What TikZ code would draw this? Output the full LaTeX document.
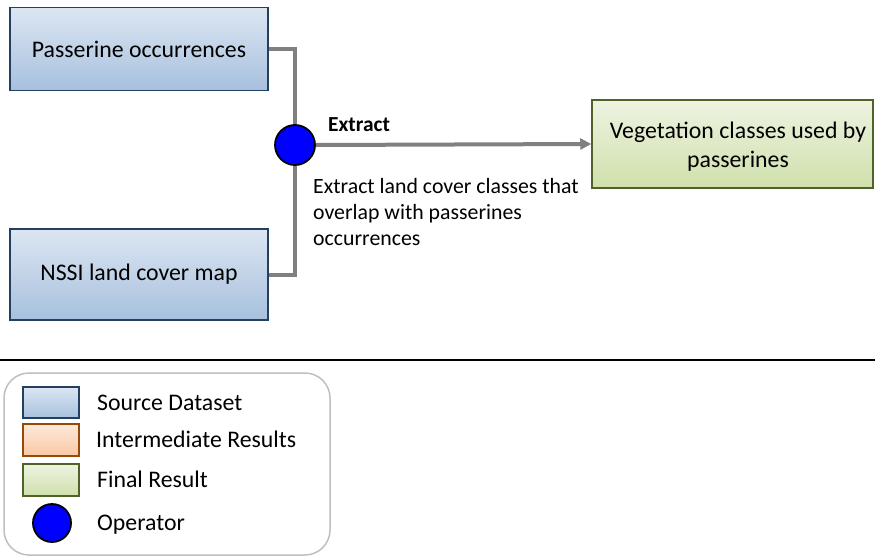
\documentclass[tikz,border=0pt]{standalone}
\usepackage{fontspec}
\setmainfont{Carlito}
\usetikzlibrary{arrows.meta,shadings}
\definecolor{srcborder}{HTML}{243F60}
\definecolor{srctop}{HTML}{DCE6F2}
\definecolor{srcbot}{HTML}{A7C0DE}
\definecolor{fintop}{HTML}{EEF3E2}
\definecolor{finbot}{HTML}{CFE0AB}
\definecolor{finborder}{HTML}{4F6228}
\definecolor{inttop}{HTML}{FDE9D9}
\definecolor{intbot}{HTML}{FAC8A4}
\definecolor{intborder}{HTML}{984807}
\definecolor{connc}{HTML}{808080}
\definecolor{legborder}{HTML}{BFBFBF}
\tikzset{
  srcbox/.style={draw=srcborder, line width=1.5pt, top color=srctop, bottom color=srcbot, font=\fontsize{23.8}{28}\selectfont, inner sep=0pt},
  finbox/.style={draw=finborder, line width=1.5pt, top color=fintop, bottom color=finbot, inner sep=0pt},
  bigtext/.style={font=\fontsize{23.8}{29}\selectfont, align=center, inner sep=0pt},
  intbox/.style={draw=intborder, line width=1.5pt, top color=inttop, bottom color=intbot, inner sep=0pt},
  opnode/.style={circle, draw=black, line width=1.8pt, fill=blue, minimum size=40pt, inner sep=0pt},
  conn/.style={draw=connc, line width=4pt},
  legtext/.style={anchor=base west, font=\fontsize{23.8}{28}\selectfont, inner sep=0pt},
  desc/.style={font=\fontsize{21.8}{26}\selectfont, align=left, inner sep=0pt},
}
\begin{document}
\begin{tikzpicture}[x=1pt,y=-1pt]
\useasboundingbox (0,0) rectangle (875,557);
% main boxes
\node[srcbox, minimum width=258pt, minimum height=83pt] (pass) at (139,49) {Passerine occurrences};
\node[srcbox, minimum width=258pt, minimum height=91pt] (nssi) at (139,274.5) {NSSI land cover map};
\node[finbox, minimum width=281pt, minimum height=88pt] (veg) at (732.5,144) {};
\node[bigtext] (vegtext) at (738,147) {Vegetation classes used by\\passerines};
\node[opnode] (op) at (295,145) {};
% connectors
\draw[conn] (pass.east) -| (op.north);
\draw[conn] (nssi.east) -| (op.south);
\draw[conn, -{Triangle[length=11pt,width=11pt]}] (op.east) -- (veg.west);
% labels
\node[anchor=base west, inner sep=0pt, font=\fontsize{21.4}{24}\selectfont\bfseries] (extlab) at (328,131) {Extract};
\node[desc, anchor=north west] (desclab) at (313,178) {Extract land cover classes that\\overlap with passerines\\occurrences};
% separator
\coordinate (sepL) at (0,359.5);
\coordinate (sepR) at (875,359.5);
\draw[line width=2pt, black] (sepL) -- (sepR);
% legend
\node[draw=legborder, line width=1.5pt, rounded corners=25pt, minimum width=326pt, minimum height=182pt, inner sep=0pt] (legend) at (167,464) {};
\node[srcbox, minimum width=56pt, minimum height=31pt] (lsrc) at (51,402.5) {};
\node[intbox, minimum width=56pt, minimum height=32pt] (lint) at (51,440) {};
\node[finbox, minimum width=56pt, minimum height=32pt] (lfin) at (51,480) {};
\node[opnode, minimum size=38pt] (lop) at (52,523) {};
\node[legtext] (tsrc) at (97,410) {Source Dataset};
\node[legtext] (tint) at (96,447) {Intermediate Results};
\node[legtext] (tfin) at (97,487) {Final Result};
\node[legtext] (top) at (97,530) {Operator};
\end{tikzpicture}
\end{document}
